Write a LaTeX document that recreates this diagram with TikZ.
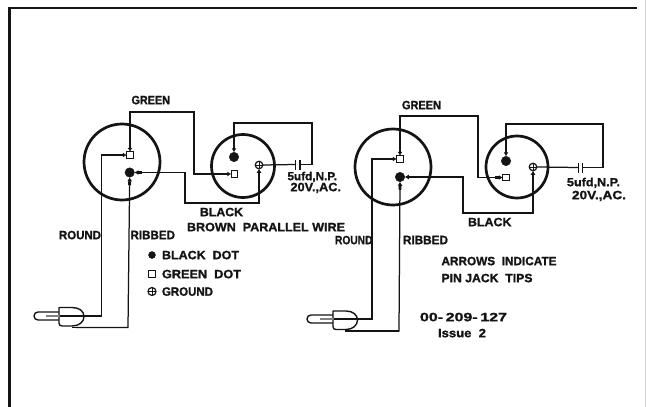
\documentclass[tikz,border=0pt]{standalone}
\usepackage{fontspec}
\setmainfont[BoldFeatures={FakeBold=1.2}]{Liberation Sans}
\usetikzlibrary{arrows.meta}
\tikzset{
  ring/.style={circle,draw=ink,line width=2.7pt,inner sep=0pt,outer sep=0pt,minimum size=#1},
  wire/.style={draw=ink,line width=1.25pt,line join=miter},
  tipped/.style={wire,{Latex[length=4pt,width=5pt]Rectangle[length=4pt,width=2.8pt]}-{Rectangle[length=4pt,width=2.8pt]Latex[length=4pt,width=5pt]}},
  tipone/.style={wire,-{Rectangle[length=4pt,width=2.8pt]Latex[length=4pt,width=5pt]}},
  blackpin/.style={circle,fill=ink,draw=ink,inner sep=0pt,outer sep=0pt,minimum size=#1},
  greenpin/.style={rectangle,draw=ink,fill=white,line width=1.4pt,inner sep=0pt,outer sep=0pt,minimum size=#1},
  gndpin/.style={circle,draw=ink,fill=white,line width=1.2pt,inner sep=0pt,outer sep=0pt,minimum size=#1,
    path picture={\draw[ink,line width=.9pt]
      (path picture bounding box.north)--(path picture bounding box.south)
      (path picture bounding box.west)--(path picture bounding box.east);}},
  plate/.style={draw=ink,line width=1.3pt},
  plugline/.style={draw=ink,line width=1.4pt,line join=round},
  lab/.style={anchor=base west,inner sep=0pt,outer sep=0pt,text=ink,font=\bfseries},
  framing/.style={draw=ink}
}
\definecolor{ink}{HTML}{141414}
\newcommand{\lab}[5]{\node[lab] (#1) at (#2,#3+4.2) {\resizebox{#4pt}{8.4pt}{#5}};}
\begin{document}
\begin{tikzpicture}[x=1pt,y=-1pt]
\useasboundingbox (0,0) rectangle (646,407);
\fill[white] (0,0) rectangle (646,407);
% frame
\coordinate (fa) at (9.5,407);
\coordinate (fb) at (9.5,7.7);
\coordinate (fc) at (637,7.7);
\draw[framing,line width=2.6pt] (fa)--(fb);
\draw[framing,line width=1.6pt] (8.2,7.7)--(fc);
\coordinate (fd) at (645.5,0);
\coordinate (fe) at (645.5,407);
\draw[draw=gray!35,line width=1pt] (fd)--(fe);

% ---------- left assembly
\node[ring=76pt] (bigA) at (122,162) {};
\node[ring=63pt] (smallA) at (243,166) {};
\node[greenpin=6.5pt] (gA) at (130,155) {};
\node[blackpin=9.5pt] (dA) at (129.7,172.5) {};
\node[greenpin=6.5pt] (gB) at (234.5,174) {};
\node[blackpin=9.5pt] (dB) at (234,157) {};
\node[gndpin=7.5pt] (tB) at (259,165) {};
\coordinate (cA1) at (295.5,164.5);
\coordinate (cA2) at (300,164.5);
\coordinate (pA1) at (60,316);
\coordinate (pA2) at (76,327.5);
\draw[plate] (295.5,159.5)--(295.5,169.5) (300,159.5)--(300,169.5);
\draw[tipped] (gA.north) |- (194,112) |- (gB.west);
\draw[tipped] (dA.east) -| (185,203) -| (tB.south);
\draw[wire] (tB.east) -- (cA1);
\draw[tipone] (cA2) -| (312,123) -| (dB.north);
\draw[tipone] (pA1) -| (101.5,155) -- (gA.west);
\draw[tipone] (pA2) -- (128,327.5) -- (dA.south);
% left plug
\draw[plugline,fill=white] (59,307.5) -- (72,307.5) .. controls (79,307.5) and (84,311) .. (84,316.5) .. controls (84,322) and (79,326) .. (72,326) -- (62,326) .. controls (60,326) and (59,325) .. (59,323) -- cycle;
\draw[plugline] (59,312) -- (38,312) arc[start angle=270,end angle=90,radius=4] -- (59,320);
\draw[draw=gray,line width=1.6pt] (46,316) -- (59,316);
\draw[wire] (pA1) -- (101.5,316);
\draw[wire] (72,327.5) -- (128,327.5);

% ---------- right assembly
\node[ring=76pt] (bigC) at (393,167) {};
\node[ring=62pt] (smallC) at (517,167) {};
\node[greenpin=6.5pt] (gC) at (400,159) {};
\node[blackpin=9.5pt] (dC) at (400,177) {};
\node[greenpin=6.5pt] (gD) at (506,177.5) {};
\node[blackpin=9.5pt] (dD) at (506,161) {};
\node[gndpin=7.5pt] (tD) at (533,167) {};
\coordinate (cC1) at (578.5,167.5);
\coordinate (cC2) at (582.5,167.5);
\coordinate (pC1) at (334,319);
\coordinate (pC2) at (347,331);
\draw[plate] (578.5,162.5)--(578.5,172.5) (582.5,162.5)--(582.5,172.5);
\draw[tipped] (gC.north) |- (478,116) |- (gD.west);
\draw[tipped] (dC.east) -| (463,213) -| (tD.south);
\draw[wire] (tD.east) -- (cC1);
\draw[tipone] (cC2) -| (603,124) -| (dD.north);
\draw[tipone] (pC1) -| (372,159) -- (gC.west);
\draw[tipone] (pC2) -- (399,331) -- (dC.south);
% right plug
\draw[plugline,fill=white] (333,311) -- (346,311) .. controls (353,311) and (357.5,315) .. (357.5,320) .. controls (357.5,325) and (353,329.5) .. (346,329.5) -- (336,329.5) .. controls (334,329.5) and (333,328.5) .. (333,326.5) -- cycle;
\draw[plugline] (333,315) -- (311,315) arc[start angle=270,end angle=90,radius=4] -- (333,323);
\draw[draw=gray,line width=1.6pt] (320,319) -- (333,319);
\draw[wire] (pC1) -- (372,319);
\draw[wire] (345,331) -- (399,331);

% ---------- labels left
\lab{t1}{131.5}{100}{38.5}{GREEN}
\lab{t2}{200}{212}{43}{BLACK}
\lab{t3}{187}{227}{158}{BROWN\ \ PARALLEL\ WIRE}
\lab{t4}{59}{235}{42}{ROUND}
\lab{t5}{130.5}{235}{44.5}{RIBBED}
\lab{t6}{287.5}{176}{49.5}{5ufd,N.P.}
\lab{t7}{290.5}{187}{50.5}{20V.,AC.}
% legend
\node[blackpin=7pt] (k1) at (152,255) {};
\node[greenpin=6.5pt] (k2) at (152,274) {};
\node[gndpin=8pt] (k3) at (152,291.5) {};
\lab{t8}{162}{255}{77}{BLACK\ \ DOT}
\lab{t9}{162}{274}{79}{GREEN\ \ DOT}
\lab{t10}{162}{291.5}{51}{GROUND}

% ---------- labels right
\lab{t11}{402}{105}{39}{GREEN}
\lab{t12}{468}{222}{43.5}{BLACK}
\lab{t13}{335}{240}{37.5}{ROUND}
\lab{t14}{403}{240}{45}{RIBBED}
\lab{t15}{567}{182}{53}{5ufd,N.P.}
\lab{t16}{572}{195}{54}{20V.,AC.}
\lab{t17}{441.5}{261}{115}{ARROWS\ \ INDICATE}
\lab{t18}{441.5}{278}{91}{PIN JACK\ \ TIPS}
\lab{t19}{420}{317}{87}{00-\,209-\,127}
\lab{t20}{438}{333}{48}{Issue\ \ 2}
\end{tikzpicture}
\end{document}
